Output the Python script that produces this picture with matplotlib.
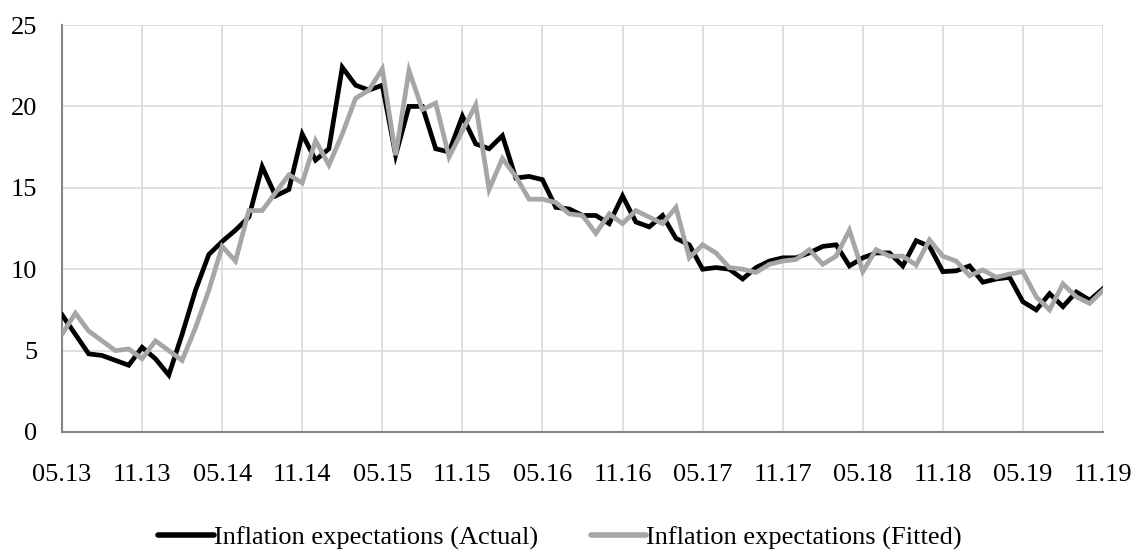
import matplotlib.pyplot as plt
import numpy as np

# monthly values, 05.13 .. 11.19
actual = [7.2, 6.0, 4.8, 4.7, 4.4, 4.1, 5.2, 4.5, 3.5, 6.0,
          8.7, 10.9, 11.7, 12.4, 13.2, 16.3, 14.5, 14.9, 18.3, 16.7,
          17.4, 22.4, 21.3, 21.0, 21.3, 17.0, 20.0, 20.0, 17.4, 17.2,
          19.4, 17.7, 17.4, 18.2, 15.6, 15.7, 15.5, 13.8, 13.7, 13.3,
          13.3, 12.8, 14.5, 12.9, 12.6, 13.3, 11.9, 11.5, 10.0, 10.1,
          10.0, 9.4, 10.1, 10.5, 10.7, 10.7, 11.0, 11.4, 11.5, 10.2,
          10.7, 11.0, 11.0, 10.2, 11.75, 11.4, 9.85, 9.9, 10.2, 9.2,
          9.4, 9.5, 8.0, 7.5, 8.5, 7.7, 8.6, 8.1, 8.8]

fitted = [6.0, 7.3, 6.2, 5.6, 5.0, 5.1, 4.5, 5.6, 5.0, 4.4,
          6.4, 8.7, 11.4, 10.5, 13.6, 13.6, 14.7, 15.8, 15.3, 17.9,
          16.4, 18.3, 20.5, 21.0, 22.3, 17.0, 22.2, 19.8, 20.2, 16.9,
          18.5, 20.1, 14.9, 16.8, 15.7, 14.3, 14.3, 14.1, 13.4, 13.3,
          12.2, 13.4, 12.8, 13.6, 13.2, 12.8, 13.8, 10.7, 11.5, 11.0,
          10.1, 10.0, 9.8, 10.3, 10.5, 10.6, 11.2, 10.3, 10.8, 12.4,
          9.85, 11.2, 10.8, 10.8, 10.25, 11.8, 10.8, 10.5, 9.6, 9.95,
          9.5, 9.7, 9.85, 8.3, 7.5, 9.1, 8.3, 7.9, 8.7]

tick_labels = ['05.13', '11.13', '05.14', '11.14', '05.15', '11.15', '05.16',
               '11.16', '05.17', '11.17', '05.18', '11.18', '05.19', '11.19']

plt.rcParams['font.family'] = ['Liberation Serif', 'DejaVu Serif']

x = np.arange(len(actual))

fig = plt.figure(figsize=(11.35, 5.51), dpi=100)
ax = fig.add_axes([62/1135, 119/551, 1041/1135, 407/551])

ax.plot(x, actual, color='black', lw=3.4, solid_joinstyle='miter',
        label='Inflation expectations (Actual)', zorder=3)
ax.plot(x, fitted, color='#a6a6a6', lw=3.4, solid_joinstyle='miter',
        label='Inflation expectations (Fitted)', zorder=4)

ax.set_xlim(0, len(actual) - 1)
ax.set_ylim(0, 25)
ax.set_xticks(x[::6])
ax.set_xticklabels(tick_labels)
ax.set_yticks([0, 5, 10, 15, 20, 25])

ax.grid(True, color='#d9d9d9', lw=1.2)
ax.set_axisbelow(True)
for s in ['top', 'right']:
    ax.spines[s].set_visible(False)
for s in ['left', 'bottom']:
    ax.spines[s].set_color('#868686')
    ax.spines[s].set_linewidth(1.5)
ax.tick_params(length=0, labelsize=19, colors='black')
ax.tick_params(axis='x', pad=23)
ax.tick_params(axis='y', pad=18)

leg = fig.legend(loc='center', bbox_to_anchor=(0.4934, 1 - 538/551), ncol=2,
                 frameon=False, fontsize=19, handlelength=2.1, handletextpad=0.0,
                 columnspacing=2.0, borderpad=0)
for h in leg.get_lines():
    h.set_linewidth(4.0)
    h.set_solid_capstyle('round')

plt.savefig('out.png', dpi=100)
